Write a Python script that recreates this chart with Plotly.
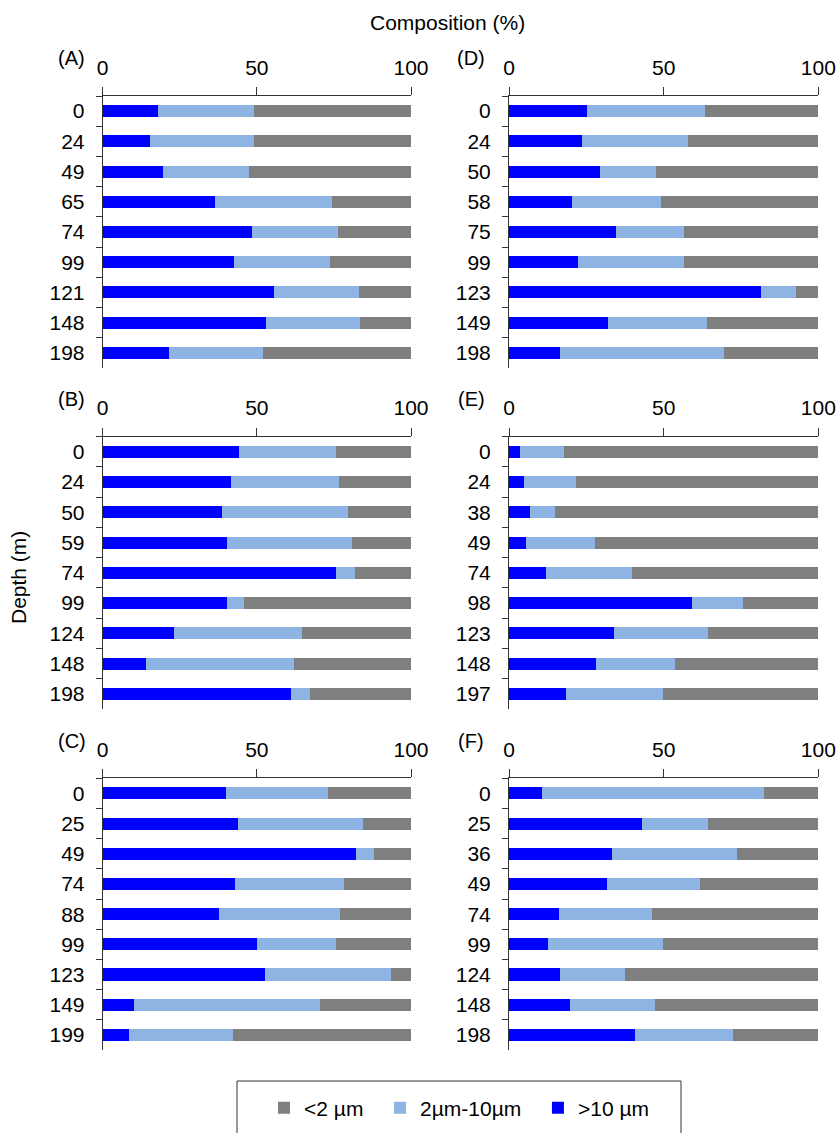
import plotly.graph_objects as go

# ---------------- data ----------------
panel_names = ["(A)", "(D)", "(B)", "(E)", "(C)", "(F)"]

depth_A = ["0", "24", "49", "65", "74", "99", "121", "148", "198"]
big_A = [18, 15.4, 19.7, 36.5, 48.5, 42.6, 55.6, 52.9, 21.4]
mid_A = [31, 33.6, 27.7, 38, 27.7, 31, 27.5, 30.7, 30.6]

depth_D = ["0", "24", "50", "58", "75", "99", "123", "149", "198"]
big_D = [25.2, 23.5, 29.5, 20.5, 34.6, 22.2, 81.6, 32.1, 16.6]
mid_D = [38.3, 34.4, 18, 28.7, 22, 34.4, 11.2, 31.8, 52.9]

depth_B = ["0", "24", "50", "59", "74", "99", "124", "148", "198"]
big_B = [44.3, 41.7, 38.6, 40.4, 75.8, 40.4, 23.1, 14.1, 61.1]
mid_B = [31.5, 34.9, 41.1, 40.6, 6, 5.5, 41.4, 47.8, 6]

depth_E = ["0", "24", "38", "49", "74", "98", "123", "148", "197"]
big_E = [3.7, 5, 6.7, 5.4, 11.9, 59.3, 33.8, 28.2, 18.3]
mid_E = [14.2, 16.8, 8.2, 22.4, 27.9, 16.2, 30.5, 25.5, 31.4]

depth_C = ["0", "25", "49", "74", "88", "99", "123", "149", "199"]
big_C = [39.9, 43.9, 82.3, 43, 37.8, 49.9, 52.5, 10.2, 8.4]
mid_C = [33.3, 40.5, 5.6, 35.4, 39.3, 25.9, 41, 60.4, 33.8]

depth_F = ["0", "25", "36", "49", "74", "99", "124", "148", "198"]
big_F = [10.6, 42.9, 33.4, 31.7, 16.2, 12.7, 16.6, 19.6, 40.7]
mid_F = [71.8, 21.4, 40.4, 30, 30, 37, 21, 27.5, 31.7]

depths = [depth_A, depth_D, depth_B, depth_E, depth_C, depth_F]
bigs = [big_A, big_D, big_B, big_E, big_C, big_F]
mids = [mid_A, mid_D, mid_B, mid_E, mid_C, mid_F]
smalls = [[round(100 - b - m, 2) for b, m in zip(bb, mm)] for bb, mm in zip(bigs, mids)]

series_names = [">10 µm", "2µm-10µm", "<2 µm"]
series_colors = ["#0000FF", "#8DB4E2", "#7F7F7F"]
legend_pad = ["", "\u00a0\u00a0", "\u00a0\u00a0"]

x_ticks = [0, 50, 100]

# ---------------- layout geometry ----------------
W, H = 840, 1133
FONT = "Liberation Sans, Arial, Helvetica, sans-serif"
col_px = [(102.7, 411.0), (509.0, 818.3)]
row_px = [(96.0, 368.0), (436.7, 709.0), (778.3, 1050.0)]


def px_x(v):
    return v / W


def px_y(v):
    return 1 - v / H


fig = go.Figure()
layout_axes = {}
annotations = []

for i in range(6):
    r, c = divmod(i, 2)
    idx = "" if i == 0 else str(i + 1)
    xa, ya = "x" + idx, "y" + idx
    vals = [bigs[i], mids[i], smalls[i]]
    for s in range(3):
        fig.add_trace(go.Bar(
            y=depths[i], x=vals[s], orientation="h",
            name=series_names[s] + legend_pad[s],
            marker=dict(color=series_colors[s], line=dict(width=0)),
            width=0.4, xaxis=xa, yaxis=ya, legendgroup=series_names[s],
            showlegend=(i == 0), hoverinfo="x+y+name",
        ))
    x0, x1 = col_px[c]
    y0, y1 = row_px[r]
    layout_axes["xaxis" + idx] = dict(
        domain=[px_x(x0), px_x(x1)], anchor=ya, side="top", range=[0, 100],
        tickvals=x_ticks, ticks="outside", ticklen=8, tickcolor="#333",
        showline=True, linecolor="#333", linewidth=1, showgrid=False, zeroline=False,
        tickfont=dict(size=21, color="black", family=FONT), ticklabelstandoff=4,
        fixedrange=True, automargin=False,
    )
    layout_axes["yaxis" + idx] = dict(
        domain=[px_y(y1), px_y(y0)], anchor=xa, type="category",
        categoryorder="array", categoryarray=depths[i], autorange="reversed",
        ticks="outside", tickson="boundaries", ticklen=6, tickcolor="#333",
        showline=True, linecolor="#333", linewidth=1, showgrid=False, zeroline=False,
        tickfont=dict(size=21, color="black", family=FONT), ticklabelstandoff=13,
        fixedrange=True, automargin=False,
    )
    label_x = 71.5 if c == 0 else 471
    label_y = [58, 399, 741][r]
    annotations.append(dict(
        text=panel_names[i], x=px_x(label_x), y=px_y(label_y), xref="paper", yref="paper",
        showarrow=False, xanchor="center", yanchor="middle",
        font=dict(size=20, color="black", family=FONT),
    ))

annotations.append(dict(
    text="Composition (%)", x=px_x(447), y=px_y(23), xref="paper", yref="paper",
    showarrow=False, xanchor="center", yanchor="middle",
    font=dict(size=21, color="black", family=FONT),
))
annotations.append(dict(
    text="Depth (m)", x=px_x(18), y=px_y(578), xref="paper", yref="paper",
    showarrow=False, xanchor="center", yanchor="middle", textangle=-90,
    font=dict(size=21, color="black", family=FONT),
))

fig.update_layout(
    width=W, height=H, barmode="stack", bargap=0.6,
    margin=dict(l=0, r=0, t=0, b=0, autoexpand=False),
    paper_bgcolor="white", plot_bgcolor="white",
    font=dict(family=FONT, color="black"),
    annotations=annotations,
    showlegend=True,
    legend=dict(
        orientation="h", traceorder="reversed", x=px_x(459), xanchor="center",
        y=px_y(1108), yanchor="middle", font=dict(size=21, family=FONT, color="black"),
        bgcolor="rgba(0,0,0,0)", itemclick=False, itemdoubleclick=False,
    ),
    shapes=[dict(
        type="rect", xref="paper", yref="paper",
        x0=px_x(237), x1=px_x(681), y0=px_y(1081), y1=px_y(1160),
        line=dict(color="#333", width=1), fillcolor="rgba(0,0,0,0)", layer="below",
    )],
    **layout_axes,
)

fig.write_html(
    "out.html",
    config={"displayModeBar": False},
    post_script="document.body.style.margin='0px';document.body.style.overflow='hidden';",
)
